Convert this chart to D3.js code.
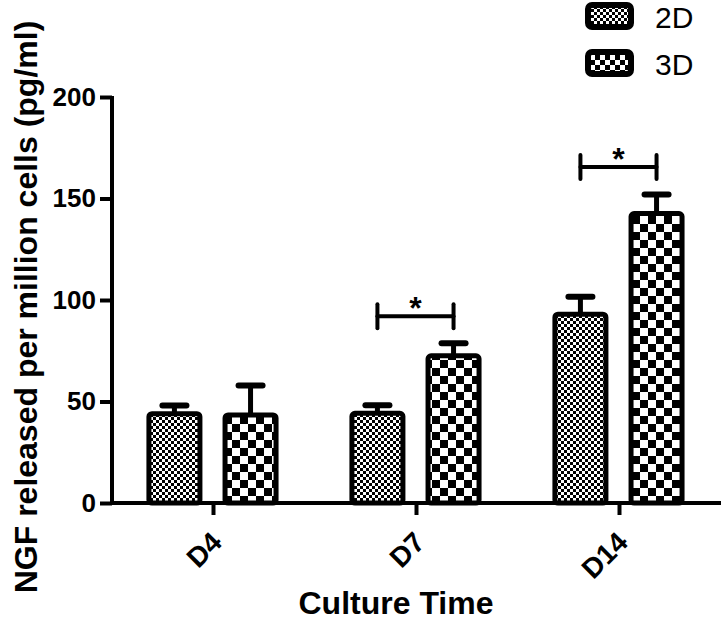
<!DOCTYPE html>
<html>
<head>
<meta charset="utf-8">
<script src="https://cdn.jsdelivr.net/npm/d3@7"></script>
<style>
html,body{margin:0;padding:0;background:#fff;}
svg{display:block;}
text{font-family:"Liberation Sans", Arial, Helvetica, sans-serif;}
</style>
</head>
<body>
<svg id="chart" width="724" height="622"></svg>
<script>
// ---- data ----
const categories = ["D4", "D7", "D14"];
const series = ["2D", "3D"];
const mean2D = [44, 44.2, 93];
const err2D = [4, 4, 8.6];
const mean3D = [43.4, 72.5, 142.6];
const err3D = [14.5, 6.2, 9.4];
const sigLevel = [null, 92, 165.5];   // bracket height (data units), null = no bracket
const sigLabel = [null, "*", "*"];
const yTicks = [0, 50, 100, 150, 200];
const yTitle = "NGF released per million cells (pg/ml)";
const xTitle = "Culture Time";

(function () {
// ---- layout ----
const svg = d3.select("#chart");
const pL = 112, pR = 721, pT = 97, pB = 503;

const x = d3.scaleBand().domain(categories).range([pL, pR]).padding(0);
const bw = x.bandwidth();
const x1 = d3.scaleBand().domain(series).range([bw * 0.12, bw * 0.87]).padding(0);
const y = d3.scaleLinear().domain([0, 200]).range([pB, pT]);

// patterns
const defs = svg.append("defs");
function checker(id, s) {
  const p = defs.append("pattern").attr("id", id).attr("patternUnits", "userSpaceOnUse")
    .attr("width", 2 * s).attr("height", 2 * s);
  p.append("rect").attr("width", 2 * s).attr("height", 2 * s).attr("fill", "#fff");
  p.append("rect").attr("x", 0).attr("y", 0).attr("width", s).attr("height", s).attr("fill", "#000");
  p.append("rect").attr("x", s).attr("y", s).attr("width", s).attr("height", s).attr("fill", "#000");
}
checker("p2D", 3);
checker("p3D", 8);
checker("l2D", 3);
checker("l3D", 5);

const rows = categories.map((c, i) => ({
  cat: c,
  vals: [
    { s: "2D", v: mean2D[i], e: err2D[i] },
    { s: "3D", v: mean3D[i], e: err3D[i] }
  ],
  sig: sigLevel[i], lab: sigLabel[i]
}));

const barW = x1.bandwidth() * 0.67;
const sw = 5;

const g = svg.append("g");
rows.forEach(r => {
  r.vals.forEach(d => {
    const cx = x(r.cat) + x1(d.s) + x1.bandwidth() / 2;
    g.append("line").attr("x1", cx).attr("x2", cx).attr("y1", y(d.v)).attr("y2", y(d.v + d.e))
      .attr("stroke", "#000").attr("stroke-width", 5);
    g.append("line").attr("x1", cx - 12).attr("x2", cx + 12).attr("y1", y(d.v + d.e)).attr("y2", y(d.v + d.e))
      .attr("stroke", "#000").attr("stroke-width", 6).attr("stroke-linecap", "round");
    g.append("rect").attr("x", cx - barW / 2).attr("y", y(d.v))
      .attr("width", barW).attr("height", y(0) - y(d.v))
      .attr("rx", 3).attr("ry", 3)
      .attr("fill", "url(#p" + d.s + ")").attr("stroke", "#000").attr("stroke-width", sw);
  });
  if (r.sig !== null) {
    const xa = x(r.cat) + x1("2D") + x1.bandwidth() / 2;
    const xb = x(r.cat) + x1("3D") + x1.bandwidth() / 2;
    const yy = y(r.sig);
    const bg = g.append("g").attr("stroke", "#000").attr("stroke-width", 4).attr("stroke-linecap", "round");
    bg.append("line").attr("x1", xa).attr("x2", xb).attr("y1", yy).attr("y2", yy);
    bg.append("line").attr("x1", xa).attr("x2", xa).attr("y1", yy - 12).attr("y2", yy + 12);
    bg.append("line").attr("x1", xb).attr("x2", xb).attr("y1", yy - 12).attr("y2", yy + 12);
    g.append("text").attr("x", (xa + xb) / 2).attr("y", yy + 3).attr("text-anchor", "middle")
      .attr("font-size", 32).attr("font-weight", "bold").text(r.lab);
  }
});

// axes
const yAxis = svg.append("g").attr("transform", `translate(${pL},0)`)
  .call(d3.axisLeft(y).tickValues(yTicks).tickSize(12).tickSizeOuter(0).tickPadding(4));
yAxis.select(".domain").attr("stroke-width", 4).attr("d", `M0,${pT - 1}V${pB + 2}`);
yAxis.selectAll(".tick line").attr("stroke-width", 4);
yAxis.selectAll(".tick text").attr("font-size", 26).attr("font-weight", "bold")
  .attr("font-family", "Liberation Sans, Arial, sans-serif").attr("fill", "#000");

const xAxis = svg.append("g").attr("transform", `translate(0,${pB})`)
  .call(d3.axisBottom(x).tickSize(12).tickSizeOuter(0));
xAxis.select(".domain").attr("stroke-width", 4).attr("d", `M${pL - 2},0H${pR}`);
xAxis.selectAll(".tick line").attr("stroke-width", 4);
xAxis.selectAll(".tick text").attr("font-size", 28).attr("font-weight", "bold")
  .attr("font-family", "Liberation Sans, Arial, sans-serif").attr("fill", "#000")
  .attr("text-anchor", "end").attr("dy", 0).attr("y", 0)
  .attr("transform", "translate(10,41) rotate(-45)");

// titles
svg.append("text").attr("transform", "translate(37,307) rotate(-90)")
  .attr("text-anchor", "middle").attr("font-size", 32).attr("font-weight", "bold").text(yTitle);
svg.append("text").attr("x", 396).attr("y", 614)
  .attr("text-anchor", "middle").attr("font-size", 32).attr("font-weight", "bold").text(xTitle);

// legend
const leg = svg.append("g");
series.forEach((s, i) => {
  const ly = 5 + i * 47;
  leg.append("rect").attr("x", 588).attr("y", ly).attr("width", 43).attr("height", 22)
    .attr("rx", 4).attr("fill", "url(#l" + s + ")").attr("stroke", "#000").attr("stroke-width", 6);
  leg.append("text").attr("x", 655).attr("y", ly + 23).attr("font-size", 30).text(s);
});
})();
</script>
</body>
</html>
